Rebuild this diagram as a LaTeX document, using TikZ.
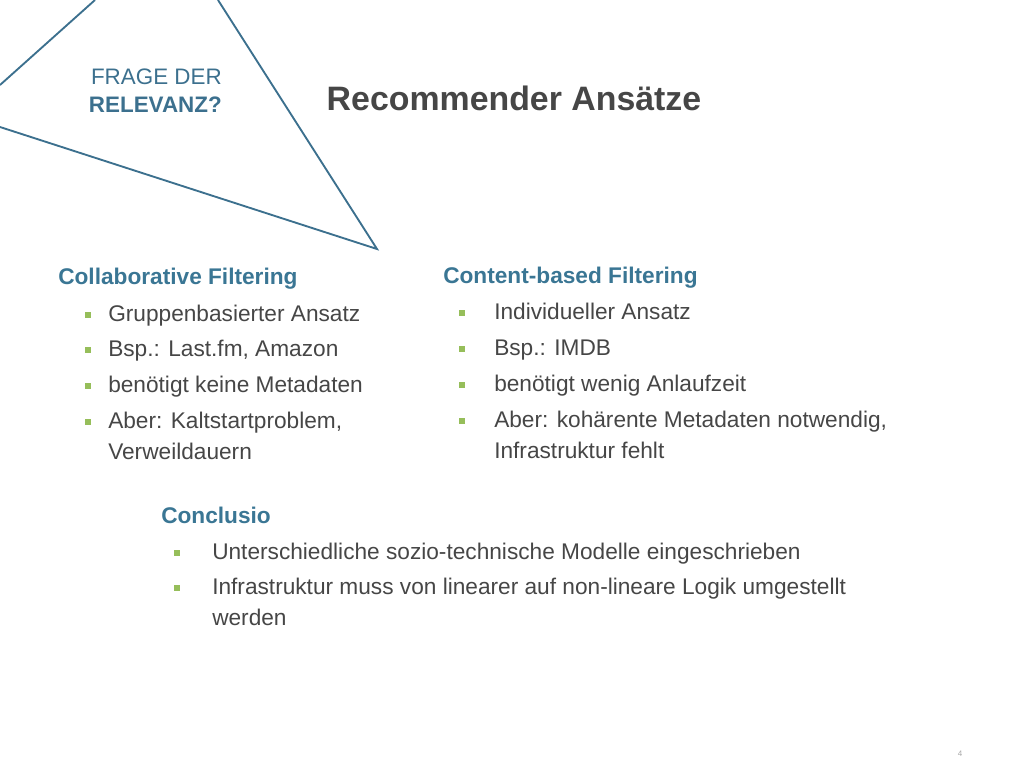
\documentclass[tikz,border=0pt]{standalone}
\usepackage{fontspec}
\setmainfont{Liberation Sans}
\definecolor{teal1}{RGB}{60,112,142}
\definecolor{head}{RGB}{58,118,148}
\definecolor{txt}{RGB}{70,70,70}
\definecolor{bul}{RGB}{150,190,90}
\tikzset{
  body/.style={anchor=base west, inner sep=0pt, font=\fontsize{17}{20}\selectfont, text=txt},
  hd/.style={anchor=base west, inner sep=0pt, font=\fontsize{17}{20}\selectfont\bfseries, text=head},
  bull/.style={fill=bul, minimum size=4.5pt, inner sep=0pt}
}
\begin{document}
\begin{tikzpicture}[x=0.75pt,y=-0.75pt]
    \useasboundingbox (0,0) rectangle (1024,768);
    % triangle
    \coordinate (t1) at (0,85);
    \coordinate (t2) at (95,0);
    \coordinate (t3) at (0,127);
    \coordinate (t4) at (377,249);
    \coordinate (t5) at (218,0);
    \draw[teal1, line width=1.4] (t1) -- (t2);
    \draw[teal1, line width=1.4] (t3) -- (t4) -- (t5);
    \node[anchor=base east, inner sep=0pt, text=teal1, font=\fontsize{16.8}{20}\selectfont] (frage) at (222,84) {FRAGE DER};
    \node[anchor=base east, inner sep=0pt, text=teal1, font=\fontsize{16.8}{20}\selectfont\bfseries] (rel) at (222,112) {RELEVANZ?};
    \node[anchor=base, inner sep=0pt, text=txt, font=\fontsize{25.4}{30}\selectfont\bfseries] (title) at (514,110) {Recommender Ansätze};

    % left column
    \node[hd] (collab) at (58,284) {Collaborative Filtering};
    \node[body] (l1) at (108,321) {Gruppenbasierter Ansatz};
    \node[body] (l2) at (108,356) {Bsp.: Last.fm, Amazon};
    \node[body] (l3) at (108,392) {benötigt keine Metadaten};
    \node[body] (l4) at (108,428) {Aber: Kaltstartproblem,};
    \node[body] (l5) at (108,459) {Verweildauern};
    \foreach \y in {321,356,392,428} \node[bull] at (88,\y-6) {};

    % right column
    \node[hd] (content) at (443,283) {Content-based Filtering};
    \node[body] (r1) at (494,319) {Individueller Ansatz};
    \node[body] (r2) at (494,355) {Bsp.: IMDB};
    \node[body] (r3) at (494,391) {benötigt wenig Anlaufzeit};
    \node[body] (r4) at (494,427) {Aber: kohärente Metadaten notwendig,};
    \node[body] (r5) at (494,458) {Infrastruktur fehlt};
    \foreach \y in {319,355,391,427} \node[bull] at (462,\y-6) {};

    % conclusio
    \node[hd] (concl) at (161,523) {Conclusio};
    \node[body] (c1) at (212,559) {Unterschiedliche sozio-technische Modelle eingeschrieben};
    \node[body] (c2) at (212,594) {Infrastruktur muss von linearer auf non-lineare Logik umgestellt};
    \node[body] (c3) at (212,625) {werden};
    \foreach \y in {559,594} \node[bull] at (177,\y-6) {};

    \node[anchor=base, inner sep=0pt, text=gray!70, font=\fontsize{6}{7}\selectfont] (page) at (960,756) {4};
\end{tikzpicture}
\end{document}
